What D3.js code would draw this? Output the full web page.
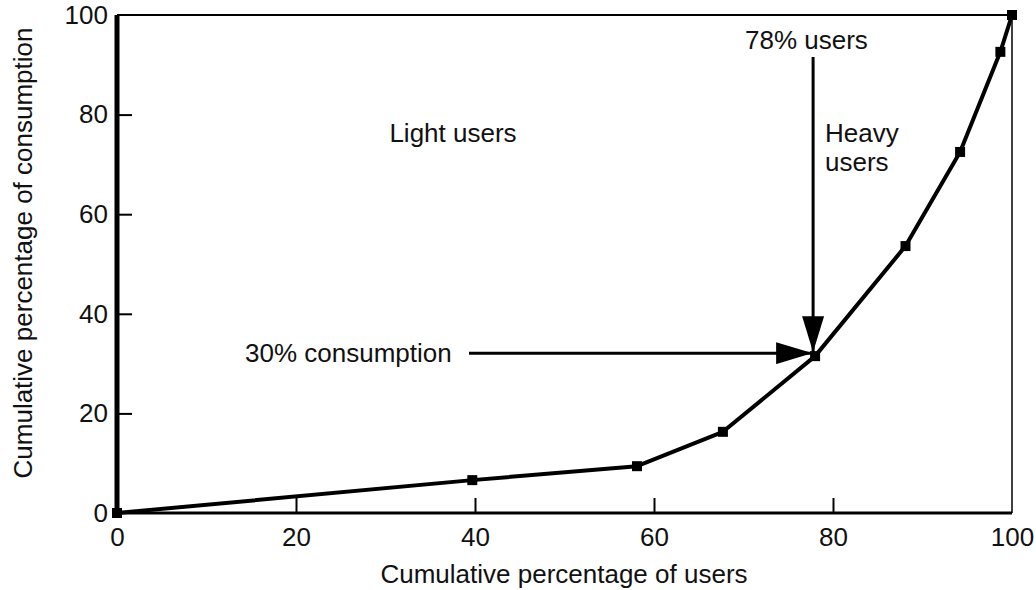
<!DOCTYPE html>
<meta charset="utf-8">
<style>
body {
    margin: 0;
    background: #fff;
}
svg {
    display: block;
    font-family: "Liberation Sans", Arial, sans-serif;
}
.axis path {
    display: none;
}
.axis line {
    stroke: #000;
    stroke-width: 2;
}
.axis text {
    font-size: 26px;
    fill: #111;
}
</style>

<body>
    <div id="chart-container"></div>
    <script src="https://cdnjs.cloudflare.com/ajax/libs/d3/7.8.5/d3.min.js"></script>
    <script>
    // data
    var usersPct = [0, 39.7, 58.1, 67.7, 78, 88.1, 94.2, 98.7, 100];
    var consumptionPct = [0, 6.6, 9.4, 16.3, 31.5, 53.6, 72.5, 92.6, 100];
    var xTicks = [0, 20, 40, 60, 80, 100];
    var yTicks = [0, 20, 40, 60, 80, 100];

    var width = 1036,
        height = 590;

    var svg = d3.select("#chart-container").append("svg")
        .attr("width", width)
        .attr("height", height);

    // plot box in pixels (note: "top" is taken by window.top, so prefix)
    var plotLeft = 117, plotRight = 1012, plotTop = 15, plotBottom = 513;

    var xScale = d3.scaleLinear().domain([0, 100]).range([plotLeft, plotRight]);
    var yScale = d3.scaleLinear().domain([0, 100]).range([plotBottom, plotTop]);

    // ticks point into the plot
    var xAxis = d3.axisBottom(xScale)
        .tickValues(xTicks)
        .tickSize(-15)
        .tickPadding(15)
        .tickFormat(d3.format("d"));
    var yAxis = d3.axisLeft(yScale)
        .tickValues(yTicks)
        .tickSize(-15)
        .tickPadding(9)
        .tickFormat(d3.format("d"));

    var gX = svg.append("g")
        .attr("class", "axis axis--x")
        .attr("transform", "translate(0," + plotBottom + ")")
        .call(xAxis);
    gX.selectAll(".tick line").filter(function(d) { return d === 0 || d === 100; }).remove();

    var gY = svg.append("g")
        .attr("class", "axis axis--y")
        .attr("transform", "translate(" + plotLeft + ",0)")
        .call(yAxis);
    gY.selectAll(".tick line").filter(function(d) { return d === 0 || d === 100; }).remove();

    // frame: heavy left and bottom, light top and right
    svg.append("line").attr("x1", plotLeft).attr("x2", plotLeft).attr("y1", plotTop).attr("y2", plotBottom + 2)
        .attr("stroke", "#000").attr("stroke-width", 5);
    svg.append("line").attr("x1", plotLeft).attr("x2", plotRight).attr("y1", plotBottom).attr("y2", plotBottom)
        .attr("stroke", "#000").attr("stroke-width", 3);
    svg.append("line").attr("x1", plotLeft).attr("x2", plotRight).attr("y1", plotTop).attr("y2", plotTop)
        .attr("stroke", "#000").attr("stroke-width", 2);
    svg.append("line").attr("x1", plotRight).attr("x2", plotRight).attr("y1", plotTop).attr("y2", plotBottom)
        .attr("stroke", "#000").attr("stroke-width", 1.5);

    // axis titles
    svg.append("text")
        .attr("x", 564)
        .attr("y", 583)
        .attr("text-anchor", "middle")
        .style("font-size", "26px")
        .attr("fill", "#111")
        .text("Cumulative percentage of users");
    svg.append("text")
        .attr("transform", "translate(32,253) rotate(-90)")
        .attr("text-anchor", "middle")
        .style("font-size", "26px")
        .attr("fill", "#111")
        .text("Cumulative percentage of consumption");

    // curve
    var pts = usersPct.map(function(d, i) { return [d, consumptionPct[i]]; });
    var line = d3.line()
        .x(function(d) { return xScale(d[0]); })
        .y(function(d) { return yScale(d[1]); });
    svg.append("path")
        .datum(pts)
        .attr("d", line)
        .attr("fill", "none")
        .attr("stroke", "#000")
        .attr("stroke-width", 4)
        .attr("stroke-linejoin", "round");

    svg.selectAll(".marker")
        .data(pts)
        .enter().append("path")
        .attr("class", "marker")
        .attr("transform", function(d) { return "translate(" + xScale(d[0]) + "," + yScale(d[1]) + ")"; })
        .attr("d", d3.symbol().type(d3.symbolSquare).size(100))
        .attr("fill", "#000");

    // annotations
    var mark = pts[4];
    var mx = xScale(mark[0]), my = yScale(mark[1]);

    svg.append("defs").append("marker")
        .attr("id", "head")
        .attr("viewBox", "0 0 36 22")
        .attr("refX", 36).attr("refY", 11)
        .attr("markerWidth", 36).attr("markerHeight", 22)
        .attr("markerUnits", "userSpaceOnUse")
        .attr("orient", "auto")
        .append("path")
        .attr("d", "M0,0 L36,11 L0,22 Z")
        .attr("fill", "#000");

    svg.append("line")
        .attr("x1", 469).attr("y1", my - 3)
        .attr("x2", mx - 3).attr("y2", my - 3)
        .attr("stroke", "#000").attr("stroke-width", 3)
        .attr("marker-end", "url(#head)");
    svg.append("line")
        .attr("x1", mx - 2).attr("y1", 57)
        .attr("x2", mx - 2).attr("y2", my - 4)
        .attr("stroke", "#000").attr("stroke-width", 3)
        .attr("marker-end", "url(#head)");

    var labels = [
        { t: "78% users", x: 745, y: 49, a: "start" },
        { t: "30% consumption", x: 245, y: 362, a: "start" },
        { t: "Light users", x: 453, y: 142, a: "middle" },
        { t: "Heavy", x: 825, y: 142, a: "start" },
        { t: "users", x: 825, y: 171, a: "start" }
    ];
    svg.selectAll(".note")
        .data(labels)
        .enter().append("text")
        .attr("class", "note")
        .attr("x", function(d) { return d.x; })
        .attr("y", function(d) { return d.y; })
        .attr("text-anchor", function(d) { return d.a; })
        .style("font-size", "26px")
        .attr("fill", "#111")
        .text(function(d) { return d.t; });
    </script>
</body>

</html>
